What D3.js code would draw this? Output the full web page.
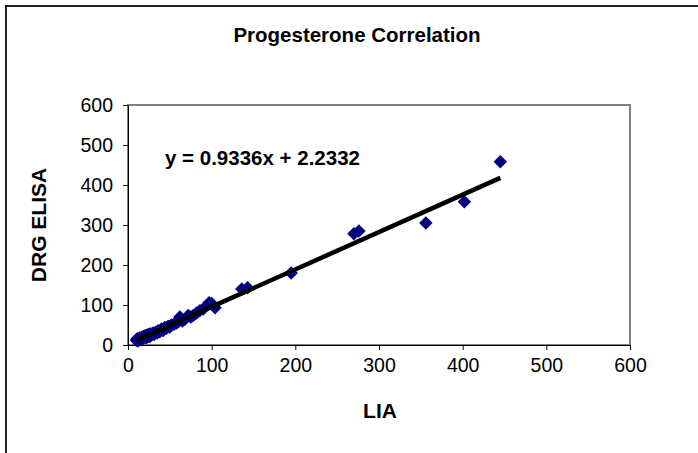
<!DOCTYPE html>
<html>
<head>
<meta charset="utf-8">
<script src="https://cdn.jsdelivr.net/npm/d3@7"></script>
<style>
  body { margin: 0; background: #fff; }
  svg { display: block; font-family: Arial, "Liberation Sans", sans-serif; }
</style>
</head>
<body>
<svg id="chart" width="698" height="453"></svg>
<script>
// LIA vs DRG ELISA readings
const lia = [10, 11, 12, 13, 14, 15, 16, 17, 18, 19, 20, 21, 22, 23, 24, 25, 26, 27, 28, 30,
  31, 33, 35, 36, 38, 40, 42, 44, 46, 48, 50, 52, 55, 58, 60, 62, 65, 68, 72, 75,
  78, 82, 86, 90, 97, 100, 104, 136, 143, 195, 270, 276, 356, 402, 445];
const elisa = [12, 16, 10, 15, 18, 13, 17, 20, 16, 22, 19, 24, 18, 25, 22, 27, 21, 28, 25, 30,
  26, 32, 30, 36, 33, 40, 36, 44, 42, 47, 45, 50, 52, 55, 58, 70, 60, 64, 74, 70,
  74, 80, 86, 90, 106, 104, 93, 140, 143, 180, 278, 285, 305, 358, 458];

const slope = 0.9336;
const intercept = 2.2332;

const xTicks = [0, 100, 200, 300, 400, 500, 600];
const yTicks = [0, 100, 200, 300, 400, 500, 600];

const svg = d3.select("#chart");

// chart area frame
svg.append("rect")
  .attr("x", 6).attr("y", 6)
  .attr("width", 720).attr("height", 470)
  .attr("fill", "#fff")
  .attr("stroke", "#222")
  .attr("stroke-width", 2);

const plot = { left: 128, top: 105, right: 630, bottom: 345 };

const x = d3.scaleLinear().domain([0, 600]).range([plot.left, plot.right]);
const y = d3.scaleLinear().domain([0, 600]).range([plot.bottom, plot.top]);

// plot area border
svg.append("rect")
  .attr("x", plot.left).attr("y", plot.top)
  .attr("width", plot.right - plot.left)
  .attr("height", plot.bottom - plot.top)
  .attr("fill", "none")
  .attr("stroke", "#808080")
  .attr("stroke-width", 2);

const xAxis = svg.append("g")
  .attr("transform", `translate(0,${plot.bottom})`)
  .call(d3.axisBottom(x).tickValues(xTicks).tickSize(5).tickPadding(8).tickSizeOuter(0));

const yAxis = svg.append("g")
  .attr("transform", `translate(${plot.left},0)`)
  .call(d3.axisLeft(y).tickValues(yTicks).tickSize(5).tickPadding(10).tickSizeOuter(0));

[xAxis, yAxis].forEach(g => {
  g.select(".domain").attr("stroke", "#000").attr("stroke-width", 1);
  g.selectAll(".tick line").attr("stroke", "#000");
  g.selectAll(".tick text")
    .attr("fill", "#000")
    .style("font-size", "19.5px")
    .style("font-family", "Arial, 'Liberation Sans', sans-serif");
});

// markers
const pts = lia.map((v, i) => [v, elisa[i]]);
svg.append("g").selectAll("path")
  .data(pts)
  .enter().append("path")
  .attr("d", d3.symbol(d3.symbolSquare, 90))
  .attr("transform", d => `translate(${x(d[0])},${y(d[1])}) rotate(45)`)
  .attr("fill", "#000080");

// linear trendline
const xMin = d3.min(lia), xMax = d3.max(lia);
svg.append("line")
  .attr("x1", x(xMin)).attr("y1", y(slope * xMin + intercept))
  .attr("x2", x(xMax)).attr("y2", y(slope * xMax + intercept))
  .attr("stroke", "#000")
  .attr("stroke-width", 4.5);

svg.append("text")
  .attr("x", 165).attr("y", 165)
  .style("font-size", "20.5px").style("font-weight", "bold")
  .text(`y = ${slope}x + ${intercept}`);

svg.append("text")
  .attr("x", 357).attr("y", 42)
  .attr("text-anchor", "middle")
  .style("font-size", "20.5px").style("font-weight", "bold")
  .text("Progesterone Correlation");

svg.append("text")
  .attr("x", 380).attr("y", 418)
  .attr("text-anchor", "middle")
  .style("font-size", "21px").style("font-weight", "bold")
  .text("LIA");

svg.append("text")
  .attr("transform", `translate(46,${(plot.top + plot.bottom) / 2}) rotate(-90)`)
  .attr("text-anchor", "middle")
  .style("font-size", "21px").style("font-weight", "bold")
  .text("DRG ELISA");
</script>
</body>
</html>
